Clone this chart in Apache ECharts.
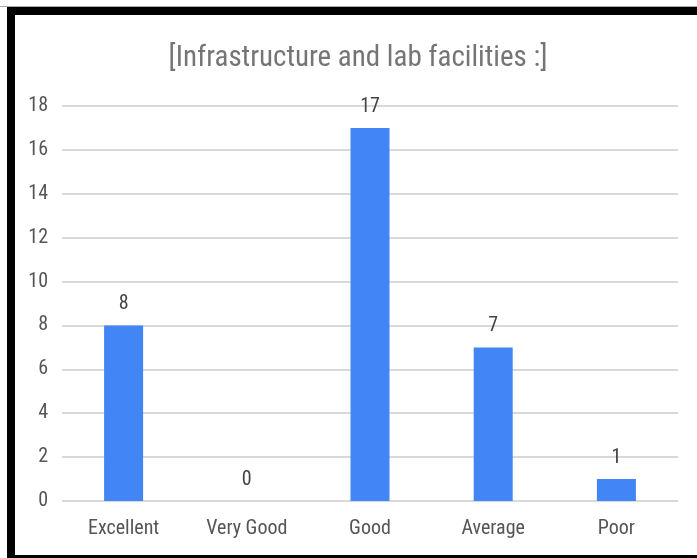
<!DOCTYPE html>
<html><head><meta charset="utf-8">
<script src="https://cdn.jsdelivr.net/npm/echarts@6/dist/echarts.min.js"></script>
<style>
html,body{margin:0;padding:0;background:#fff;}
#c{position:absolute;left:0;top:0;width:697px;height:558px;}
.b{position:absolute;background:#000;}
</style></head><body>
<div id="c"></div>
<div class="b" style="left:7px;top:7px;width:690px;height:8px;"></div>
<div class="b" style="left:7px;top:7px;width:8px;height:551px;"></div>
<div class="b" style="left:7px;top:555px;width:690px;height:3px;"></div>
<div style="position:absolute;left:0;top:6px;width:697px;height:1px;background:#aaa;"></div>
<script>
const titleText = "[Infrastructure and lab facilities :]";
const categories = ["Excellent", "Very Good", "Good", "Average", "Poor"];
const values = [8, 0, 17, 7, 1];
const yTicks = [0, 2, 4, 6, 8, 10, 12, 14, 16, 18];

const font = "'Roboto Condensed', 'Liberation Sans', sans-serif";
const chart = echarts.init(document.getElementById('c'));
chart.setOption({
  animation: false,
  graphic: [{
    type: 'text', x: 358, y: 59,
    style: {text: titleText, fontFamily: font, fontSize: 29, fill: '#757575', align: 'center', verticalAlign: 'middle'}
  }],
  grid: {left: 62, right: 19, top: 106, bottom: 57},
  xAxis: {
    type: 'category', data: categories,
    axisLine: {show: false}, axisTick: {show: false},
    axisLabel: {fontFamily: font, fontSize: 20, color: '#555', margin: 18}
  },
  yAxis: {
    type: 'value', min: yTicks[0], max: yTicks[yTicks.length - 1], interval: yTicks[1] - yTicks[0],
    axisLabel: {fontFamily: font, fontSize: 20, color: '#555', margin: 14},
    splitLine: {lineStyle: {color: '#d9d9d9', width: 2}},
    axisLine: {show: false}, axisTick: {show: false}
  },
  series: [{
    type: 'bar', data: values, barWidth: 39,
    itemStyle: {color: '#4285f4'},
    label: {show: true, position: 'top', distance: 11, fontFamily: font, fontSize: 20, color: '#444'}
  }]
});
</script>
</body></html>
